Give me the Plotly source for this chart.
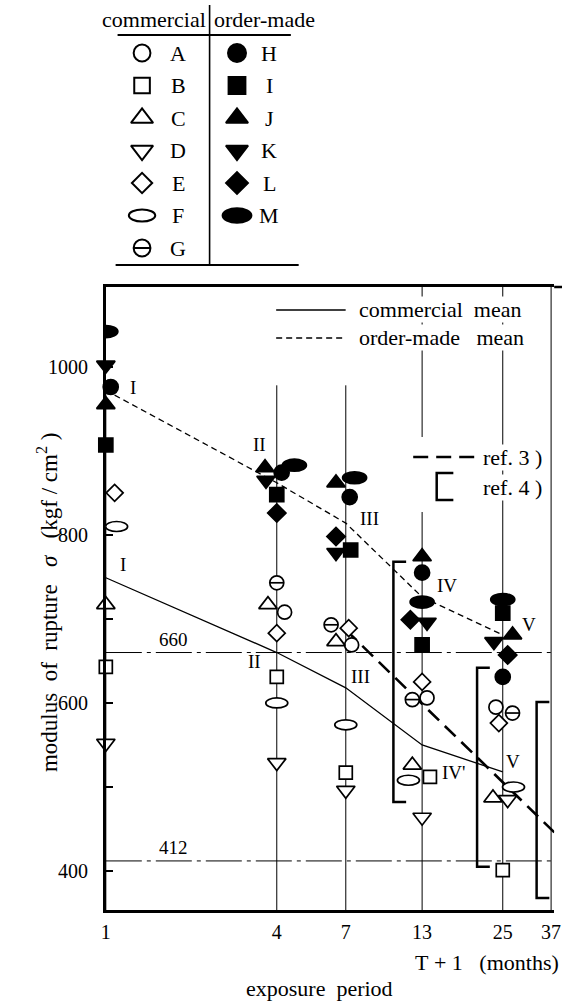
import math
import plotly.graph_objects as go

FONT = "Liberation Serif"
W, H = 569, 1001

# plot frame (pixels from the top-left corner of the page)
PLOT_LEFT, PLOT_RIGHT, PLOT_TOP, PLOT_BOTTOM = 103, 561, 287, 910
X_RANGE = [0.0, 1.579]          # log10(T+1), drawn on a linear axis
Y_RANGE = [353.6, 1095.0]       # kgf/cm2
PX_PER_DECADE = (PLOT_RIGHT - PLOT_LEFT) / (X_RANGE[1] - X_RANGE[0])

# ---- data -------------------------------------------------------------
months = [1, 4, 7, 13, 25]                      # T + 1
tick_months = [1, 4, 7, 13, 25, 37]
sigma_ticks = [400, 500, 600, 700, 800, 900, 1000]
sigma_labelled = [400, 600, 800, 1000]

# commercial boards
sigma_A = [810, 708, 669, 606, 595]
sigma_B = [643, 631, 517, 512, 401]
sigma_C = [717, 717, 673, 526, 487]
sigma_D = [552, 529, 496, 464, 485]
sigma_E = [850, 683, 689, 625, 576]
sigma_F = [810, 600, 574, 508, 500]
sigma_G = [850, 743, 693, 604, 588]

# order-made boards
sigma_H = [976, 874, 845, 755, 631]
sigma_I = [907, 848, 782, 669, 707]
sigma_J = [955, 880, 862, 774, 681]
sigma_K = [1002, 865, 779, 696, 673]
sigma_L = [970, 826, 798, 699, 657]
sigma_M = [1042, 883, 868, 720, 723]

mean_commercial = [749, 660, 618, 550, 518]
mean_order_made = [972, 862, 814, 726, 681]
roman_labels = ["I", "II", "III", "IV", "V"]
roman_labels_commercial = ["I", "II", "III", "IV'", "V"]

limit_levels = [660, 412]

ref3_months = [7, 38]
ref3_sigma = [687, 446]

ref4_months = [10.3, 20.3, 32.9]
ref4_low = [482, 405, 368]
ref4_high = [768, 642, 601]

commercial_names = ["A", "B", "C", "D", "E", "F", "G"]
order_names = ["H", "I", "J", "K", "L", "M"]
series = {
    "A": sigma_A, "B": sigma_B, "C": sigma_C, "D": sigma_D, "E": sigma_E,
    "F": sigma_F, "G": sigma_G, "H": sigma_H, "I": sigma_I, "J": sigma_J,
    "K": sigma_K, "L": sigma_L, "M": sigma_M,
}

# ---- styling ------------------------------------------------------------
OPEN_W = 1.7
STYLE = {
    "A": dict(symbol="circle", size=14, fill="white"),
    "B": dict(symbol="square", size=13, fill="white"),
    "C": dict(symbol="triangle-up", size=16, fill="white"),
    "D": dict(symbol="triangle-down", size=16, fill="white"),
    "E": dict(symbol="diamond", size=13, fill="white"),
    "F": dict(symbol="ellipse", size=(22, 10), fill="white"),
    "G": dict(symbol="circle", size=14, fill="white", bar=True),
    "H": dict(symbol="circle", size=15, fill="black"),
    "I": dict(symbol="square", size=14, fill="black"),
    "J": dict(symbol="triangle-up", size=16, fill="black"),
    "K": dict(symbol="triangle-down", size=16, fill="black"),
    "L": dict(symbol="diamond", size=14, fill="black"),
    "M": dict(symbol="ellipse", size=(24, 12), fill="black"),
}
KEY_SCALE = 1.2            # symbols in the key table are drawn a bit larger

# sideways pixel nudges so that coincident symbols stay readable
NUDGE = {
    "A": [-7, 8, 6, 5, -7],
    "B": [0, 0, 0, 8, 0],
    "C": [0, -9, -10, -10, -10],
    "D": [0, 0, 0, 0, 5],
    "E": [9, 0, 3, 0, -4],
    "F": [11, 0, 0, -14, 11],
    "G": [-7, 0, -15, -10, 10],
    "H": [5, 5, 4, 0, 0],
    "I": [0, 0, 5, 0, 0],
    "J": [0, -12, -10, 0, 10],
    "K": [0, -11, -10, 5, -9],
    "L": [-13, 0, -10, -12, 5],
    "M": [0, 18, 9, 0, 0],
}

# label offsets (pixels) from the corresponding mean-line node
ROMAN_ORDER_SHIFT = [(27, 3), (-17, 38), (24, 5), (25, 12), (26, 10)]
ROMAN_COMM_SHIFT = [(17, 13), (-22, -9), (15, 11), (31, -28), (10, 10)]

GUIDE_SHORT_TOP = 978      # the 4- and 7-month guides stop below the key
FULL_GUIDES = (13, 25, 37)


def lx(t, dx=0):
    """log10(T+1) position, optionally nudged sideways by dx pixels"""
    return math.log10(t) + dx / PX_PER_DECADE


def px(x):
    return x / W


def py(y):
    return 1 - y / H


fig = go.Figure()

# vertical guides at each exposure period
gx, gy = [], []
for t in tick_months:
    top = Y_RANGE[1] if t in FULL_GUIDES else GUIDE_SHORT_TOP
    gx += [lx(t), lx(t), None]
    gy += [top, Y_RANGE[0], None]
fig.add_trace(go.Scatter(x=gx, y=gy, mode="lines",
                         line=dict(color="black", width=1), hoverinfo="skip"))

# 660 / 412 limit lines
for lvl in limit_levels:
    fig.add_trace(go.Scatter(x=X_RANGE, y=[lvl, lvl], mode="lines",
                             line=dict(color="black", width=1,
                                       dash="36px,5px,4px,5px"),
                             hoverinfo="skip"))

# mean lines
fig.add_trace(go.Scatter(x=[lx(t) for t in months], y=mean_commercial, mode="lines",
                         line=dict(color="black", width=1.3)))
fig.add_trace(go.Scatter(x=[lx(t) for t in months], y=mean_order_made, mode="lines",
                         line=dict(color="black", width=1.3, dash="6px,4px")))

# ref. 3
fig.add_trace(go.Scatter(x=[lx(t) for t in ref3_months], y=ref3_sigma, mode="lines",
                         line=dict(color="black", width=2.6, dash="15px,8px")))

# ref. 4 ranges drawn as brackets
bx, by = [], []
for t, lo, hi in zip(ref4_months, ref4_low, ref4_high):
    bx += [lx(t, 13), lx(t), lx(t), lx(t, 13), None]
    by += [hi, hi, lo, lo, None]
fig.add_trace(go.Scatter(x=bx, y=by, mode="lines",
                         line=dict(color="black", width=2.5), cliponaxis=False))

shapes = []
# white patch under the ref. 3 / ref. 4 key
shapes.append(dict(type="rect", xref="paper", yref="paper",
                   x0=px(410), x1=px(485), y0=py(512), y1=py(437),
                   fillcolor="white", line=dict(width=0), layer="above"))

# symbols
for name in commercial_names + order_names:
    st = STYLE[name]
    xs = [lx(t, d) for t, d in zip(months, NUDGE[name])]
    ys = series[name]
    if st["symbol"] == "ellipse":
        w, h = st["size"]
        for xv, yv in zip(xs, ys):
            shapes.append(dict(type="circle", xref="x", yref="y",
                               xsizemode="pixel", ysizemode="pixel",
                               xanchor=xv, yanchor=yv,
                               x0=-w / 2, x1=w / 2, y0=-h / 2, y1=h / 2,
                               fillcolor=st["fill"],
                               line=dict(color="black", width=OPEN_W),
                               layer="above"))
        continue
    fig.add_trace(go.Scatter(
        x=xs, y=ys, mode="markers", cliponaxis=False,
        marker=dict(symbol=st["symbol"], size=st["size"], color=st["fill"],
                    line=dict(color="black", width=OPEN_W))))
    if st.get("bar"):
        fig.add_trace(go.Scatter(
            x=xs, y=ys, mode="markers", cliponaxis=False,
            marker=dict(symbol="line-ew", size=st["size"] * 0.7,
                        line=dict(color="black", width=OPEN_W))))

# ---- key table at the top ----------------------------------------------
KEY_SYM_X = {"open": 140, "filled": 237}
KEY_TXT_X = {"open": 177, "filled": 270}
KEY_ROW0, KEY_ROW_STEP = 53, 32.5

for col, names in (("open", commercial_names), ("filled", order_names)):
    for i, name in enumerate(names):
        st = STYLE[name]
        yk = KEY_ROW0 + KEY_ROW_STEP * i
        if st["symbol"] == "ellipse":
            w, h = (v * KEY_SCALE for v in st["size"])
            shapes.append(dict(type="circle", xref="x2", yref="y2",
                               xsizemode="pixel", ysizemode="pixel",
                               xanchor=KEY_SYM_X[col], yanchor=yk,
                               x0=-w / 2, x1=w / 2, y0=-h / 2, y1=h / 2,
                               fillcolor=st["fill"],
                               line=dict(color="black", width=2)))
        else:
            size = st["size"] * KEY_SCALE
            fig.add_trace(go.Scatter(
                x=[KEY_SYM_X[col]], y=[yk], mode="markers", xaxis="x2", yaxis="y2",
                marker=dict(symbol=st["symbol"], size=size, color=st["fill"],
                            line=dict(color="black", width=2))))
            if st.get("bar"):
                fig.add_trace(go.Scatter(
                    x=[KEY_SYM_X[col]], y=[yk], mode="markers", xaxis="x2", yaxis="y2",
                    marker=dict(symbol="line-ew", size=size * 0.7,
                                line=dict(color="black", width=2))))

annotations = []
TXT = dict(family=FONT, size=22, color="black")


def note(x, y, text, xanchor="center", **kw):
    annotations.append(dict(xref="paper", yref="paper", x=px(x), y=py(y),
                            xanchor=xanchor, yanchor="middle", text=text,
                            showarrow=False, font=kw.pop("font", TXT), **kw))


for col, names in (("open", commercial_names), ("filled", order_names)):
    for i, name in enumerate(names):
        annotations.append(dict(xref="x2", yref="y2", x=KEY_TXT_X[col],
                                y=KEY_ROW0 + KEY_ROW_STEP * i, text=name,
                                xanchor="center", yanchor="middle",
                                showarrow=False, font=TXT))

note(207, 19, "commercial", xanchor="right")
note(211, 19, "order-made", xanchor="left")

for (x0, y0, x1, y1, wd) in [(209, 5, 209, 265, 1.6),
                             (115, 35, 292, 35, 2),
                             (113, 265, 300, 265, 2)]:
    shapes.append(dict(type="line", xref="paper", yref="paper",
                       x0=px(x0), y0=py(y0), x1=px(x1), y1=py(y1),
                       line=dict(color="black", width=wd)))

# ---- key for the mean lines and references -----------------------------
shapes.append(dict(type="line", xref="paper", yref="paper",
                   x0=px(277), x1=px(348), y0=py(310), y1=py(310),
                   line=dict(color="black", width=1.3)))
shapes.append(dict(type="line", xref="paper", yref="paper",
                   x0=px(277), x1=px(348), y0=py(338), y1=py(338),
                   line=dict(color="black", width=1.3, dash="6px,4px")))
shapes.append(dict(type="line", xref="paper", yref="paper",
                   x0=px(417), x1=px(481), y0=py(457), y1=py(457),
                   line=dict(color="black", width=2.6, dash="15px,8px")))
shapes.append(dict(type="path", xref="paper", yref="paper",
                   path=f"M{px(458)},{py(473)} L{px(441)},{py(473)} "
                        f"L{px(441)},{py(500)} L{px(458)},{py(500)}",
                   line=dict(color="black", width=2.5)))

NB = "\u00a0"
note(361, 309, f"commercial{NB}{NB}mean", xanchor="left", bgcolor="white", borderpad=0)
note(361, 337, f"order-made{NB}{NB}{NB}mean", xanchor="left", bgcolor="white", borderpad=0)
note(487, 457, f"ref.{NB}3{NB})", xanchor="left", bgcolor="white", borderpad=0)
note(487, 488, f"ref.{NB}4{NB})", xanchor="left", bgcolor="white", borderpad=0)

# ---- in-plot labels ----------------------------------------------------
LBL = dict(family=FONT, size=19, color="black")
for t, m, lab, (dx, dy) in zip(months, mean_order_made, roman_labels, ROMAN_ORDER_SHIFT):
    annotations.append(dict(x=lx(t), y=m, text=lab, showarrow=False,
                            xshift=dx, yshift=dy, font=LBL))
for t, m, lab, (dx, dy) in zip(months, mean_commercial, roman_labels_commercial,
                               ROMAN_COMM_SHIFT):
    annotations.append(dict(x=lx(t), y=m, text=lab, showarrow=False,
                            xshift=dx, yshift=dy, font=LBL))
for lvl in limit_levels:
    annotations.append(dict(x=0, y=lvl, text=str(lvl), showarrow=False,
                            xshift=68, yshift=13, font=LBL))

# axis titles
note(43, 603,
     f"modulus{NB}{NB}of{NB}{NB}rupture{NB}{NB}{NB}<i>σ</i>{NB}{NB}{NB}"
     f"(kgf{NB}/{NB}cm<sup>2</sup>{NB})",
     textangle=-90, font=dict(family=FONT, size=23, color="black"))
note(568, 962, f"T{NB}+{NB}1{NB}{NB}{NB}(months)", xanchor="right")
note(321, 988, f"exposure{NB}{NB}period")

# top frame runs a little past the right border
shapes.append(dict(type="line", xref="paper", yref="paper",
                   x0=px(PLOT_RIGHT), x1=px(W), y0=py(PLOT_TOP), y1=py(PLOT_TOP),
                   line=dict(color="black", width=2.5)))

x_dom = [PLOT_LEFT / W, PLOT_RIGHT / W]
y_dom = [1 - PLOT_BOTTOM / H, 1 - PLOT_TOP / H]

fig.update_layout(
    width=W, height=H, margin=dict(l=0, r=0, t=0, b=0),
    paper_bgcolor="white", plot_bgcolor="white", showlegend=False,
    font=dict(family=FONT, color="black"),
    xaxis=dict(range=X_RANGE, domain=x_dom, anchor="y",
               tickvals=[lx(t) for t in tick_months],
               ticktext=[str(t) for t in tick_months],
               ticks="", showgrid=False, zeroline=False,
               showline=True, linewidth=2.5, linecolor="black", mirror=True,
               tickfont=dict(family=FONT, size=20), ticklabelstandoff=2),
    yaxis=dict(range=Y_RANGE, domain=y_dom, anchor="x",
               tickvals=sigma_labelled, ticktext=[str(v) for v in sigma_labelled],
               ticks="inside", ticklen=7, tickwidth=1.5, tickcolor="black",
               minor=dict(tickvals=sigma_ticks, ticks="inside", ticklen=7,
                          tickwidth=1.5, tickcolor="black", showgrid=False),
               showgrid=False, zeroline=False,
               showline=True, linewidth=2.8, linecolor="black",
               tickfont=dict(family=FONT, size=20), ticklabelstandoff=11),
    yaxis3=dict(range=Y_RANGE, overlaying="y", side="right", anchor="x",
                tickvals=sigma_ticks, ticks="outside", ticklen=7, tickwidth=1.5,
                tickcolor="black", showticklabels=False, showgrid=False,
                zeroline=False, showline=True, linewidth=1.5, linecolor="black"),
    xaxis2=dict(range=[0, W], domain=[0, 1], anchor="y2", visible=False),
    yaxis2=dict(range=[275, 0], domain=[1 - 275 / H, 1], anchor="x2", visible=False),
    shapes=shapes, annotations=annotations,
)

fig.write_html("out.html")
